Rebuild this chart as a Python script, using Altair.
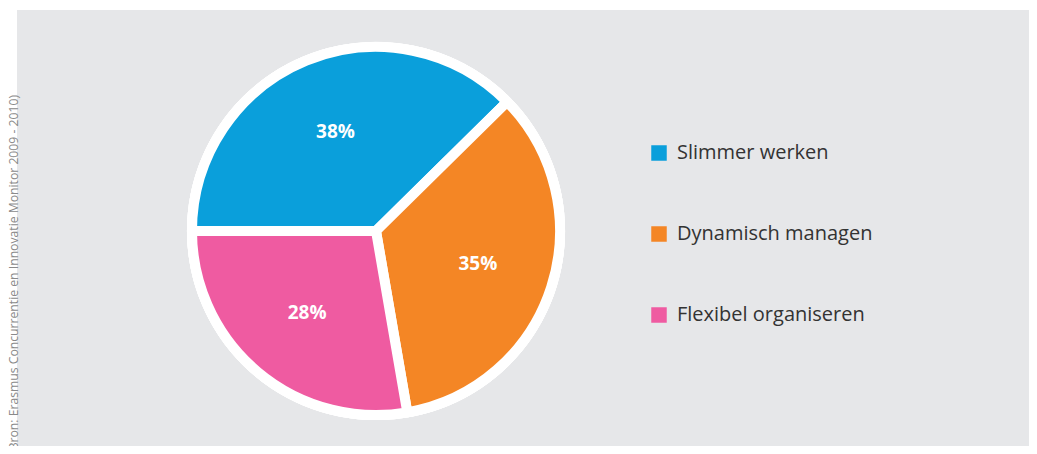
import math
import altair as alt
import pandas as pd

categories = ["Slimmer werken", "Dynamisch managen", "Flexibel organiseren"]
values = [38, 35, 28]
labels = ["38%", "35%", "28%"]
order = [0, 1, 2]
colors = ["#0a9fdb", "#f48625", "#ef5ba1"]
source = ["Bron: Erasmus Concurrentie en Innovatie Monitor 2009 - 2010)"]

df = pd.DataFrame({"cat": categories, "val": values, "lab": labels, "ord": order})
src = pd.DataFrame({"t": source})

CX, CY = 359, 221
start = 1.5 * math.pi
theta_scale = alt.Scale(range=[start, start + 2 * math.pi])

base = alt.Chart(df)

ring = base.mark_arc(radius=189, theta=0, theta2=2 * math.pi, color="white").encode(
    x=alt.value(CX), y=alt.value(CY)
)

pie = base.mark_arc(radius=184, stroke="white", strokeWidth=10).encode(
    theta=alt.Theta("val:Q", stack=True, scale=theta_scale),
    order=alt.Order("ord:Q"),
    color=alt.Color(
        "cat:N",
        scale=alt.Scale(domain=categories, range=colors),
        legend=alt.Legend(
            title=None,
            orient="none",
            legendX=632,
            legendY=133,
            symbolType="square",
            symbolSize=240,
            symbolStrokeWidth=0,
            symbolOpacity=1,
            labelFontSize=20,
            labelFont="Open Sans",
            labelColor="#333333",
            labelOffset=8,
            rowPadding=61,
            padding=0,
            labelLimit=400,
        ),
    ),
    x=alt.value(CX),
    y=alt.value(CY),
)

text = base.mark_text(
    radius=107, fontSize=19, fontWeight="bold", font="Open Sans", color="white"
).encode(
    theta=alt.Theta("val:Q", stack=True, scale=theta_scale),
    order=alt.Order("ord:Q"),
    text="lab:N",
    x=alt.value(CX),
    y=alt.value(CY),
)

note = alt.Chart(src).mark_text(
    angle=270, align="right", baseline="top", fontSize=12.2, font="Open Sans", color="#8a8a8a"
).encode(text="t:N", x=alt.value(-9), y=alt.value(85))

chart = (
    alt.layer(ring, pie, text, note)
    .properties(
        width=1012,
        height=436,
        padding={"left": 9, "top": 2, "right": 0, "bottom": 0},
        autosize=alt.AutoSizeParams(type="none"),
    )
    .configure_view(fill="#e6e7e9", stroke=None)
)

chart.save("out.html", embed_options={"renderer": "svg", "actions": False})
